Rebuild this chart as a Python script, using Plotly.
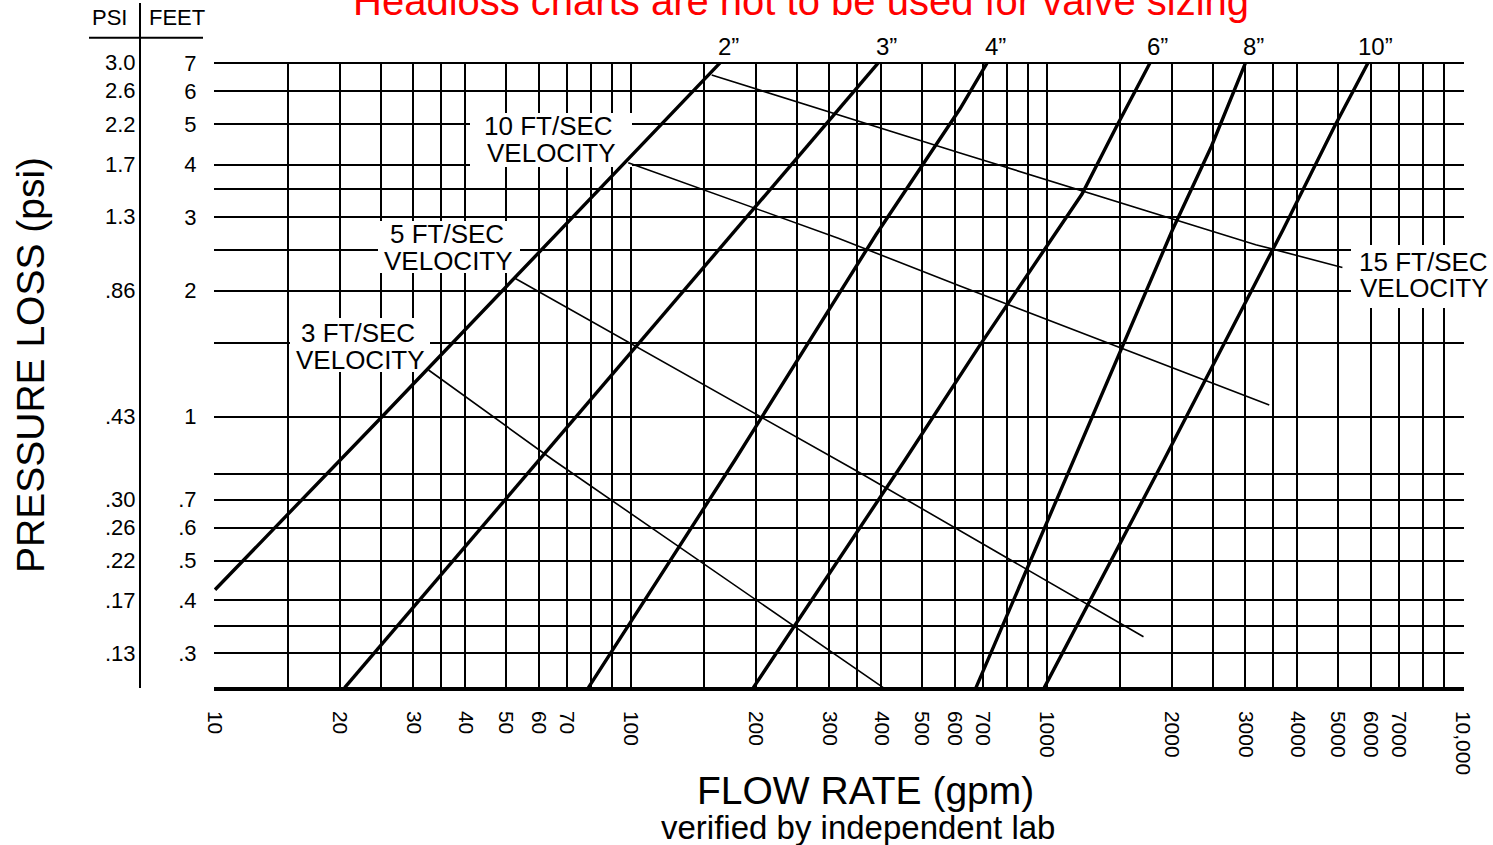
import numpy as np
import plotly.graph_objects as go

# ------------------------------------------------------------------
# DATA  (flow rate in gpm, head loss in feet, as drawn on the chart)
# ------------------------------------------------------------------
PIPE_NAMES = ["2”", "3”", "4”", "6”", "8”", "10”"]
PIPE_2_GPM = [10, 25.2, 163.7]
PIPE_2_FT = [0.386, 1.0, 7.0]
PIPE_3_GPM = [20.5, 103.2, 393]
PIPE_3_FT = [0.2253, 1.483, 7.0]
PIPE_4_GPM = [79.0, 177.8, 388, 618, 718]
PIPE_4_FT = [0.2253, 0.788, 2.72, 5.44, 7.0]
PIPE_6_GPM = [196.8, 455.7, 690, 1006, 1214, 1465, 1768]
PIPE_6_FT = [0.2253, 0.788, 1.483, 2.572, 3.404, 4.909, 7.0]
PIPE_8_GPM = [675, 1161, 2002, 2485, 3000]
PIPE_8_FT = [0.2253, 0.788, 2.793, 4.428, 7.0]
PIPE_10_GPM = [985, 1910, 3691, 4895, 5909]
PIPE_10_FT = [0.2253, 0.788, 2.793, 4.909, 7.0]

VEL_NAMES = ["3 FT/SEC", "5 FT/SEC", "10 FT/SEC", "15 FT/SEC"]
VEL_3_GPM = [32.6, 65.0, 404]
VEL_3_FT = [1.293, 0.788, 0.2253]
VEL_5_GPM = [52.6, 345.5, 1706]
VEL_5_FT = [2.141, 0.746, 0.298]
VEL_10_GPM = [98.5, 315, 618, 3422]
VEL_10_FT = [4.045, 2.669, 2.051, 1.066]
VEL_15_GPM = [156.3, 618, 3175, 5130]
VEL_15_FT = [6.55, 4.266, 2.576, 2.273]

# x grid / tick labels (gpm)
X_TICKS = [10, 15, 20, 25, 30, 35, 40, 50, 60, 70, 80, 90,
           100, 150, 200, 250, 300, 350, 400, 500, 600, 700, 800, 900,
           1000, 1500, 2000, 2500, 3000, 3500, 4000, 5000, 6000, 7000, 8000, 9000,
           10000]
X_LABELS = ["10", "", "20", "", "30", "", "40", "50", "60", "70", "", "",
            "100", "", "200", "", "300", "", "400", "500", "600", "700", "", "",
            "1000", "", "2000", "", "3000", "", "4000", "5000", "6000", "7000", "", "",
            "10,000"]

# y grid lines where the original chart draws them (its lower scale is offset)
Y_TICKS = [7, 6, 5, 4, 3.5, 3, 2.5, 2, 1.5, 1,
           0.73, 0.634, 0.543, 0.453, 0.364, 0.317, 0.272, 0.2253]
FEET_LABELS = ["7", "6", "5", "4", "", "3", "", "2", "", "1",
               "", ".7", ".6", ".5", ".4", "", ".3", ""]
PSI_LABELS = ["3.0", "2.6", "2.2", "1.7", "", "1.3", "", ".86", "", ".43",
              "", ".30", ".26", ".22", ".17", "", ".13", ""]

# ------------------------------------------------------------------
# LAYOUT HELPERS (pixel calibration of the page)
# ------------------------------------------------------------------
W, H = 1493, 845
FONT = "Liberation Sans, Arial, Helvetica, sans-serif"
X0_PX, X_DEC_PX = 215.0, 416.0
Y1_PX, Y_DEC_PX = 416.7, 418.6
PLOT_L, PLOT_R, PLOT_T, PLOT_B = 214.0, 1464.0, 61.7, 688.7


def gx(px):
    return 10 ** (1 + (px - X0_PX) / X_DEC_PX)


def gy(py):
    return 10 ** ((Y1_PX - py) / Y_DEC_PX)


def pxp(px):
    return px / W


def pyp(py):
    return 1 - py / H


fig = go.Figure()

pipes = [(PIPE_2_GPM, PIPE_2_FT), (PIPE_3_GPM, PIPE_3_FT), (PIPE_4_GPM, PIPE_4_FT),
         (PIPE_6_GPM, PIPE_6_FT), (PIPE_8_GPM, PIPE_8_FT), (PIPE_10_GPM, PIPE_10_FT)]
for name, (gq, ft) in zip(PIPE_NAMES, pipes):
    fig.add_trace(go.Scatter(x=gq, y=ft, mode="lines", name=name,
                             line=dict(color="black", width=3.4), hoverinfo="skip"))

vels = [(VEL_3_GPM, VEL_3_FT), (VEL_5_GPM, VEL_5_FT),
        (VEL_10_GPM, VEL_10_FT), (VEL_15_GPM, VEL_15_FT)]
for name, (gq, ft) in zip(VEL_NAMES, vels):
    fig.add_trace(go.Scatter(x=gq, y=ft, mode="lines", name=name,
                             line=dict(color="black", width=1.6), hoverinfo="skip"))

shapes = []
annotations = []

# white boxes behind velocity labels (cover the grid only)
boxes = [(290, 318, 430, 372), (378, 221, 520, 273), (470, 113, 632, 167), (1351, 245, 1520, 308)]
for (x0, y0, x1, y1) in boxes:
    shapes.append(dict(type="rect", xref="x", yref="y", layer="between",
                       x0=gx(x0), x1=gx(x1), y0=gy(y1), y1=gy(y0),
                       fillcolor="white", line=dict(width=0)))

vel_text_pos = [((358, 333), (360.5, 359.5)), ((446.5, 234), (448.5, 261)),
                ((548, 126), (551, 152.5)), ((1423, 262), (1424, 288))]
for name, (p1, p2) in zip(VEL_NAMES, vel_text_pos):
    for txt, (px, py) in ((name, p1), ("VELOCITY", p2)):
        annotations.append(dict(text=txt, x=pxp(px), y=pyp(py), xref="paper", yref="paper",
                                showarrow=False, xanchor="center", yanchor="middle",
                                font=dict(family=FONT, size=26, color="black")))

# pipe size labels at the top end of each line
for name, (gq, ft) in zip(PIPE_NAMES, pipes):
    annotations.append(dict(text=name, x=np.log10(gq[-1]), y=pyp(46.5), xref="x", yref="paper",
                            xshift=8, showarrow=False, xanchor="center", yanchor="middle",
                            font=dict(family=FONT, size=24, color="black")))

# PSI column
for v, lab in zip(Y_TICKS, PSI_LABELS):
    if lab:
        annotations.append(dict(text=lab, x=pxp(138), y=np.log10(v), xref="paper", yref="y",
                                showarrow=False, xanchor="right", yanchor="middle",
                                font=dict(family=FONT, size=22, color="black")))

annotations += [
    dict(text="PSI", x=pxp(109), y=pyp(18), xref="paper", yref="paper", showarrow=False,
         xanchor="center", yanchor="middle", font=dict(family=FONT, size=22, color="black")),
    dict(text="FEET", x=pxp(176.5), y=pyp(18), xref="paper", yref="paper", showarrow=False,
         xanchor="center", yanchor="middle", font=dict(family=FONT, size=22, color="black")),
    dict(text="Headloss charts are not to be used for valve sizing", x=pxp(801), y=pyp(1),
         xref="paper", yref="paper", showarrow=False, xanchor="center", yanchor="middle",
         font=dict(family=FONT, size=40, color="#ff0000")),
    dict(text="PRESSURE LOSS (psi)", x=pxp(30), y=pyp(365), xref="paper", yref="paper",
         showarrow=False, textangle=-90, xanchor="center", yanchor="middle",
         font=dict(family=FONT, size=39, color="black")),
    dict(text="FLOW RATE (gpm)", x=pxp(865), y=pyp(790), xref="paper", yref="paper",
         showarrow=False, xanchor="center", yanchor="middle",
         font=dict(family=FONT, size=39, color="black")),
    dict(text="verified by independent lab", x=pxp(858), y=pyp(827), xref="paper", yref="paper",
         showarrow=False, xanchor="center", yanchor="middle",
         font=dict(family=FONT, size=33, color="black")),
]

# header rule and column separator
shapes += [
    dict(type="line", xref="paper", yref="paper", x0=pxp(89), x1=pxp(203), y0=pyp(37.7), y1=pyp(37.7),
         line=dict(color="black", width=2)),
    dict(type="line", xref="paper", yref="paper", x0=pxp(140), x1=pxp(140), y0=pyp(3), y1=pyp(688),
         line=dict(color="black", width=2)),
]

fig.update_layout(
    width=W, height=H,
    margin=dict(l=0, r=0, t=0, b=0, pad=0, autoexpand=False),
    paper_bgcolor="white", plot_bgcolor="white",
    showlegend=False,
    font=dict(family=FONT, color="black"),
    shapes=shapes, annotations=annotations,
    xaxis=dict(type="log", domain=[pxp(PLOT_L), pxp(PLOT_R)],
               range=[np.log10(gx(PLOT_L)), np.log10(gx(PLOT_R))],
               tickmode="array", tickvals=X_TICKS, ticktext=X_LABELS, tickangle=90,
               tickfont=dict(family=FONT, size=21, color="black"),
               ticks="outside", ticklen=16, tickcolor="rgba(0,0,0,0)",
               showgrid=True, gridcolor="black", gridwidth=2,
               showline=True, linecolor="black", linewidth=2, mirror=False,
               zeroline=False, fixedrange=True, automargin=False),
    yaxis=dict(type="log", domain=[pyp(PLOT_B), pyp(PLOT_T)],
               range=[np.log10(gy(PLOT_B)), np.log10(gy(PLOT_T))],
               tickmode="array", tickvals=Y_TICKS, ticktext=FEET_LABELS,
               tickfont=dict(family=FONT, size=22, color="black"),
               ticks="outside", ticklen=12, tickcolor="rgba(0,0,0,0)",
               showgrid=True, gridcolor="black", gridwidth=2,
               showline=False, zeroline=False, fixedrange=True, automargin=False),
)

fig.write_html("out.html", config={"displayModeBar": False},
               post_script="document.body.style.margin='0';")
